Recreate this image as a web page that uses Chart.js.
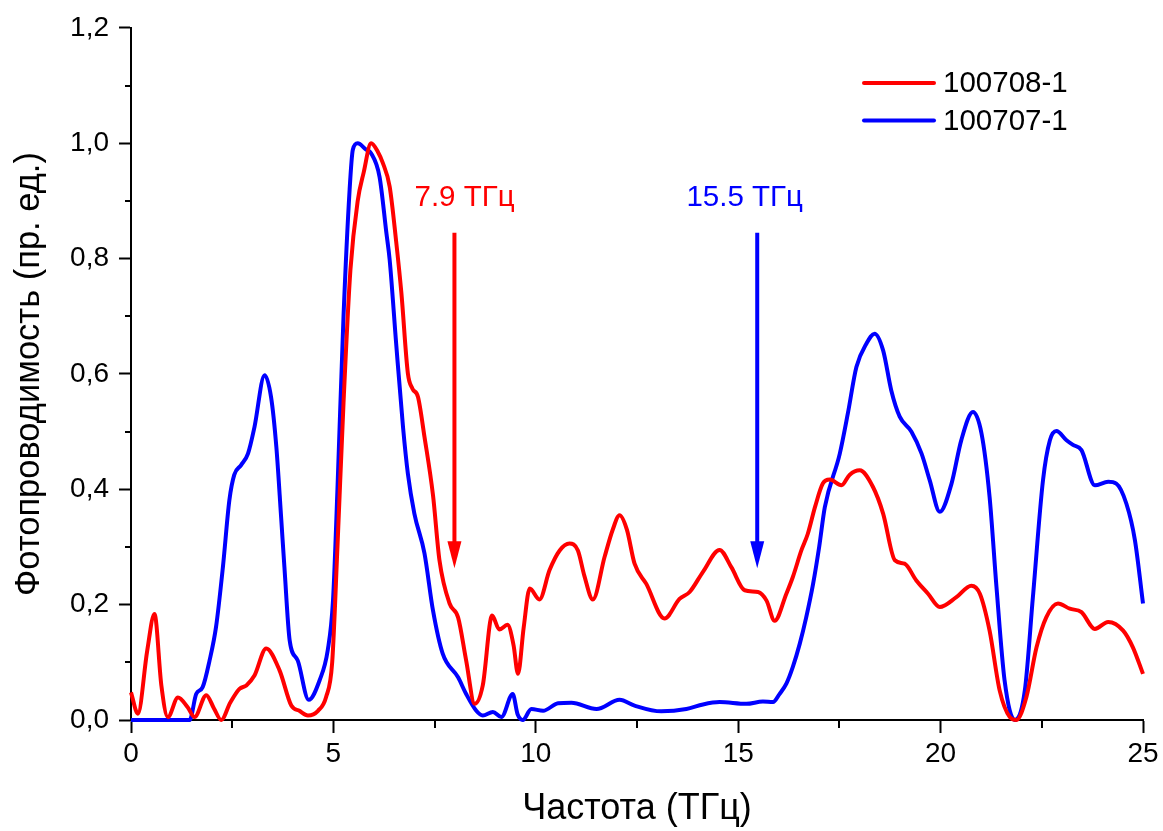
<!DOCTYPE html>
<html>
<head>
<meta charset="utf-8">
<script src="https://cdn.jsdelivr.net/npm/chart.js@4.4.0/dist/chart.umd.min.js"></script>
<style>
  html, body { margin: 0; padding: 0; background: #fff; }
  #wrap { width: 1163px; height: 831px; }
</style>
</head>
<body>
<div id="wrap"><canvas id="c" width="1163" height="831"></canvas></div>
<script>
// ---- data ----
const seriesNames = ['100708-1', '100707-1'];
const seriesColors = ['#ff0000', '#0000ff'];

const redX = [0, 0.17, 0.4, 0.58, 0.75, 0.91, 1.16, 1.40, 1.57, 1.86, 2.05, 2.23, 2.45, 2.68, 2.85, 3.05, 3.34, 3.67, 3.96, 4.16, 4.37, 4.62, 4.82, 4.97, 5.1, 5.25, 5.42, 5.6, 5.75, 5.93, 6.1, 6.22, 6.39, 6.55, 6.68, 6.84, 6.95, 7.09, 7.25, 7.46, 7.62, 7.87, 8.08, 8.28, 8.49, 8.69, 8.92, 9.1, 9.3, 9.45, 9.56, 9.7, 9.85, 10.09, 10.34, 10.59, 10.83, 11.04, 11.2, 11.41, 11.7, 11.9, 12.07, 12.25, 12.44, 12.73, 13.18, 13.55, 13.8, 14.13, 14.54, 14.83, 15.16, 15.49, 15.7, 15.9, 16.19, 16.35, 16.56, 16.72, 16.9, 17.09, 17.26, 17.55, 17.75, 18.0, 18.33, 18.58, 18.87, 19.11, 19.4, 19.69, 19.98, 20.39, 20.76, 20.97, 21.21, 21.46, 21.71, 21.87, 22.12, 22.37, 22.61, 22.9, 23.19, 23.48, 23.81, 24.14, 24.51, 24.75, 25.0];
const redY = [0.048, 0.011, 0.12, 0.184, 0.06, 0.005, 0.039, 0.022, 0.005, 0.043, 0.02, 0.0, 0.03, 0.054, 0.06, 0.077, 0.124, 0.086, 0.025, 0.016, 0.008, 0.016, 0.04, 0.1, 0.3, 0.55, 0.78, 0.9, 0.95, 1.0, 0.985, 0.966, 0.925, 0.83, 0.74, 0.601, 0.575, 0.56, 0.491, 0.39, 0.277, 0.202, 0.178, 0.103, 0.028, 0.06, 0.181, 0.157, 0.165, 0.13, 0.08, 0.16, 0.228, 0.209, 0.26, 0.294, 0.306, 0.294, 0.25, 0.209, 0.283, 0.33, 0.355, 0.33, 0.271, 0.236, 0.176, 0.21, 0.222, 0.257, 0.295, 0.265, 0.225, 0.222, 0.207, 0.172, 0.219, 0.248, 0.294, 0.323, 0.37, 0.41, 0.417, 0.407, 0.425, 0.433, 0.404, 0.358, 0.277, 0.271, 0.242, 0.219, 0.196, 0.213, 0.233, 0.219, 0.155, 0.051, 0.005, 0.0, 0.04, 0.126, 0.178, 0.202, 0.193, 0.187, 0.158, 0.17, 0.155, 0.126, 0.08];

const blueX = [0, 1.45, 1.61, 1.77, 1.94, 2.1, 2.27, 2.43, 2.55, 2.72, 2.89, 3.05, 3.3, 3.46, 3.59, 3.71, 3.79, 3.92, 4.12, 4.39, 4.66, 4.86, 4.99, 5.1, 5.25, 5.4, 5.48, 5.6, 5.81, 5.93, 6.14, 6.31, 6.39, 6.55, 6.72, 6.84, 7.0, 7.25, 7.46, 7.7, 8.08, 8.28, 8.53, 8.69, 8.94, 9.15, 9.43, 9.55, 9.68, 9.89, 10.18, 10.55, 10.88, 11.5, 12.07, 12.44, 13.1, 13.72, 14.13, 14.54, 15.2, 15.61, 15.86, 16.02, 16.19, 16.35, 16.52, 16.68, 16.85, 17.0, 17.14, 17.51, 17.71, 17.92, 18.17, 18.37, 18.58, 18.78, 18.99, 19.28, 19.53, 19.73, 19.98, 20.27, 20.51, 20.8, 21.01, 21.21, 21.38, 21.58, 21.83, 22.08, 22.28, 22.53, 22.7, 22.86, 23.11, 23.27, 23.48, 23.81, 24.14, 24.34, 24.59, 24.8, 25.0];
const blueY = [0, 0, 0.045, 0.057, 0.103, 0.161, 0.265, 0.381, 0.425, 0.442, 0.462, 0.508, 0.598, 0.56, 0.474, 0.35, 0.265, 0.138, 0.103, 0.035, 0.069, 0.121, 0.207, 0.4, 0.7, 0.919, 0.989, 1.0, 0.989, 0.983, 0.942, 0.844, 0.798, 0.653, 0.508, 0.427, 0.358, 0.289, 0.19, 0.115, 0.074, 0.045, 0.016, 0.008, 0.014, 0.005, 0.045, 0.01, 0.0, 0.019, 0.016, 0.029, 0.03, 0.019, 0.035, 0.025, 0.015, 0.019, 0.027, 0.031, 0.028, 0.032, 0.031, 0.045, 0.063, 0.092, 0.132, 0.178, 0.236, 0.3, 0.369, 0.462, 0.532, 0.612, 0.653, 0.67, 0.641, 0.572, 0.526, 0.5, 0.462, 0.416, 0.361, 0.41, 0.485, 0.534, 0.497, 0.387, 0.231, 0.069, 0.0, 0.051, 0.213, 0.416, 0.485, 0.501, 0.485, 0.477, 0.468, 0.407, 0.413, 0.41, 0.375, 0.312, 0.202];

const xTickValues = [0, 5, 10, 15, 20, 25];
const yTickLabels = ['0,0', '0,2', '0,4', '0,6', '0,8', '1,0', '1,2'];

// annotations: marked frequencies (arrows)
const markLabels = ['7.9 ТГц', '15.5 ТГц'];
const markX = [7.99, 15.47];
const markColors = ['#ff0000', '#0000ff'];

// ---- chart ----
const FONT = '"Liberation Sans", Arial, sans-serif';

function toPoints(xs, ys) { return xs.map((x, i) => ({ x: x, y: ys[i] })); }

const minorTicks = {
  id: 'minorTicks',
  afterDraw(chart) {
    const ctx = chart.ctx;
    const xs = chart.scales.x, ys = chart.scales.y;
    const area = chart.chartArea;
    ctx.save();
    ctx.strokeStyle = '#000';
    ctx.lineWidth = 2;
    for (let v = 2.5; v < 25; v += 5) {
      const px = Math.round(xs.getPixelForValue(v));
      ctx.beginPath(); ctx.moveTo(px, area.bottom); ctx.lineTo(px, area.bottom + 8); ctx.stroke();
    }
    for (let k = 1; k < 12; k += 2) {
      const py = Math.round(ys.getPixelForValue(k / 10));
      ctx.beginPath(); ctx.moveTo(area.left, py); ctx.lineTo(area.left - 6, py); ctx.stroke();
    }
    ctx.restore();
  }
};

const marks = {
  id: 'marks',
  afterDatasetsDraw(chart) {
    const ctx = chart.ctx;
    const xs = chart.scales.x, ys = chart.scales.y;
    ctx.save();
    const textDX = [0.25, -0.31];
    for (let i = 0; i < markX.length; i++) {
      const px = xs.getPixelForValue(markX[i]);
      const top = ys.getPixelForValue(0.845);
      const tip = ys.getPixelForValue(0.263);
      ctx.strokeStyle = markColors[i];
      ctx.fillStyle = markColors[i];
      ctx.lineWidth = 4;
      ctx.beginPath(); ctx.moveTo(px, top); ctx.lineTo(px, tip - 20); ctx.stroke();
      ctx.beginPath();
      ctx.moveTo(px - 7, tip - 27);
      ctx.lineTo(px + 7, tip - 27);
      ctx.lineTo(px, tip);
      ctx.closePath(); ctx.fill();
      ctx.font = '29.5px ' + FONT;
      ctx.textAlign = 'center';
      ctx.textBaseline = 'alphabetic';
      ctx.fillText(markLabels[i], xs.getPixelForValue(markX[i] + textDX[i]), ys.getPixelForValue(0.891));
    }
    ctx.restore();
  }
};

const legendBox = {
  id: 'legendBox',
  afterDraw(chart) {
    const ctx = chart.ctx;
    ctx.save();
    chart.data.datasets.forEach((ds, i) => {
      const y = 83 + i * 37.5;
      ctx.strokeStyle = ds.borderColor;
      ctx.lineWidth = 4;
      ctx.lineCap = 'round';
      ctx.beginPath(); ctx.moveTo(864, y); ctx.lineTo(934, y); ctx.stroke();
      ctx.fillStyle = '#000';
      ctx.font = '29.5px ' + FONT;
      ctx.textAlign = 'left';
      ctx.textBaseline = 'middle';
      ctx.fillText(ds.label, 943, y + 1);
    });
    ctx.restore();
  }
};

new Chart(document.getElementById('c'), {
  type: 'line',
  data: {
    datasets: [
      { label: seriesNames[0], data: toPoints(redX, redY), borderColor: seriesColors[0], borderWidth: 4,
        pointRadius: 0, cubicInterpolationMode: 'monotone', clip: false, fill: false },
      { label: seriesNames[1], data: toPoints(blueX, blueY), borderColor: seriesColors[1], borderWidth: 4,
        pointRadius: 0, cubicInterpolationMode: 'monotone', clip: false, fill: false }
    ]
  },
  options: {
    responsive: false,
    animation: false,
    events: [],
    layout: { padding: { left: 0, top: 28, right: 20, bottom: 0 } },
    plugins: { legend: { display: false }, tooltip: { enabled: false } },
    scales: {
      x: {
        type: 'linear', min: 0, max: 25,
        afterFit(s) { s.height = 111; },
        afterBuildTicks(s) { s.ticks = xTickValues.map(v => ({ value: v })); },
        ticks: { color: '#000', font: { family: FONT, size: 28 }, padding: 4, maxRotation: 0,
                 callback: (v) => String(v) },
        grid: { drawOnChartArea: false, drawTicks: true, tickLength: 13, tickWidth: 2, tickColor: '#000' },
        border: { display: true, color: '#000', width: 2 },
        title: { display: true, text: 'Частота (ТГц)', color: '#000', font: { family: FONT, size: 36 },
                 padding: { top: 0, bottom: 0 } }
      },
      y: {
        type: 'linear', min: 0, max: 1.2,
        afterFit(s) { s.width = 131; },
        afterBuildTicks(s) { s.ticks = yTickLabels.map((t, i) => ({ value: i * 0.2 })); },
        ticks: { color: '#000', font: { family: FONT, size: 28 }, padding: 10,
                 callback: (v, i) => yTickLabels[i] },
        grid: { drawOnChartArea: false, drawTicks: true, tickLength: 12, tickWidth: 2, tickColor: '#000' },
        border: { display: true, color: '#000', width: 2 },
        title: { display: true, text: 'Фотопроводимость (пр. ед.)', color: '#000', font: { family: FONT, size: 34.5 },
                 padding: { top: 9, bottom: 0 } }
      }
    }
  },
  plugins: [minorTicks, marks, legendBox]
});
</script>
</body>
</html>
